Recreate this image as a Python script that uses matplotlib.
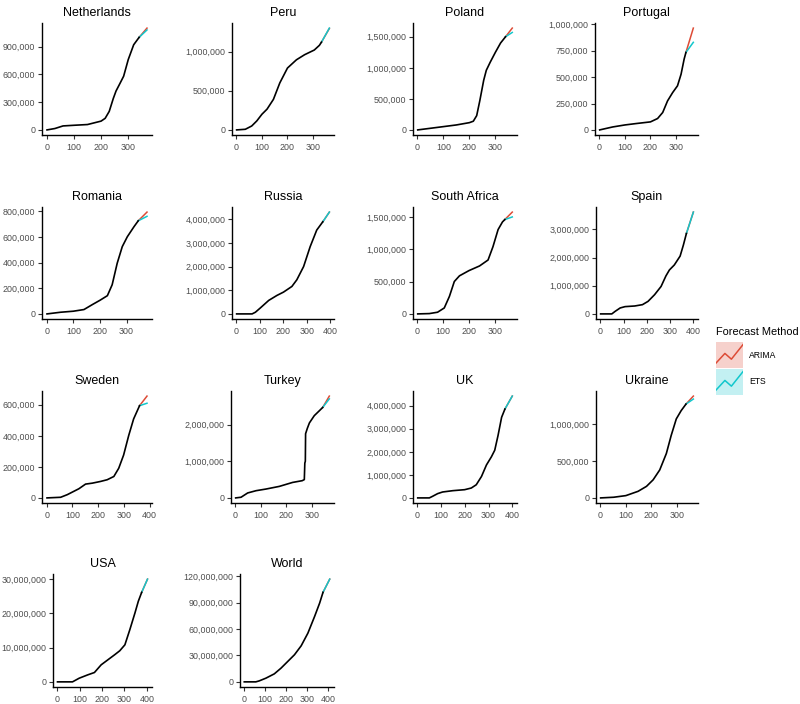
import matplotlib
matplotlib.use("Agg")
import matplotlib.pyplot as plt
from matplotlib.ticker import FuncFormatter, MultipleLocator, FixedLocator
from matplotlib.patches import Rectangle

plt.rcParams['font.family'] = ['Liberation Sans', 'DejaVu Sans']

nl_days = [1, 30, 60, 100, 150, 200, 215, 230, 245, 255, 270, 283, 300, 320, 340]
nl_vals = [0, 15e3, 43e3, 50e3, 58e3, 95e3, 125e3, 200e3, 340e3, 420e3, 505e3, 580e3, 760e3, 920e3, 1000e3]
pe_days = [1, 35, 60, 80, 100, 120, 145, 170, 200, 235, 267, 305, 325, 333]
pe_vals = [0, 8e3, 50e3, 115e3, 200e3, 265e3, 390e3, 600e3, 790e3, 895e3, 960e3, 1020e3, 1080e3, 1120e3]
pl_days = [1, 100, 150, 200, 215, 228, 240, 255, 265, 280, 300, 320, 339]
pl_vals = [0, 53e3, 80e3, 117e3, 140e3, 230e3, 470e3, 800e3, 960e3, 1090e3, 1250e3, 1400e3, 1500e3]
pt_days = [1, 52, 100, 143, 200, 228, 248, 267, 287, 306, 320, 332, 339]
pt_vals = [0, 28e3, 47e3, 60e3, 76e3, 108e3, 165e3, 275e3, 354e3, 418e3, 528e3, 671e3, 734e3]
ro_days = [1, 52, 100, 140, 171, 200, 228, 246, 265, 284, 303, 328, 344]
ro_vals = [0, 13e3, 21e3, 34e3, 72e3, 106e3, 142e3, 227e3, 395e3, 524e3, 601e3, 679e3, 725e3]
ru_days = [1, 67, 81, 102, 138, 173, 201, 237, 258, 287, 315, 343, 369]
ru_vals = [0, 0, 70e3, 250e3, 570e3, 780e3, 920e3, 1160e3, 1440e3, 2000e3, 2840e3, 3540e3, 3890e3]
za_days = [1, 46, 78, 104, 124, 143, 163, 200, 241, 274, 293, 313, 330, 339]
za_vals = [0, 5e3, 26e3, 92e3, 271e3, 501e3, 589e3, 670e3, 742e3, 834e3, 1039e3, 1305e3, 1423e3, 1459e3]
es_days = [1, 49, 64, 85, 106, 148, 181, 205, 233, 261, 282, 297, 318, 343, 357, 370]
es_vals = [0, 0, 94e3, 211e3, 258e3, 281e3, 328e3, 445e3, 680e3, 973e3, 1348e3, 1559e3, 1735e3, 2050e3, 2440e3, 2850e3]
se_days = [1, 54, 80, 125, 151, 177, 209, 235, 261, 280, 299, 319, 338, 361]
se_vals = [0, 4e3, 21e3, 59e3, 89e3, 95e3, 106e3, 117e3, 138e3, 191e3, 276e3, 403e3, 509e3, 594e3]
tr_days = [1, 22, 48, 81, 120, 172, 224, 262, 270, 272, 274, 275, 282, 290, 309, 329, 342]
tr_vals = [0, 18e3, 135e3, 197e3, 242e3, 314e3, 422e3, 470e3, 500e3, 950e3, 1000e3, 1750e3, 1900e3, 2045e3, 2242e3, 2377e3, 2466e3]
uk_days = [1, 50, 64, 85, 106, 149, 199, 227, 248, 270, 291, 312, 326, 340, 355, 369]
uk_vals = [0, 0, 71e3, 186e3, 257e3, 314e3, 357e3, 429e3, 571e3, 929e3, 1430e3, 1786e3, 2070e3, 2714e3, 3500e3, 3857e3]
ua_days = [1, 52, 100, 148, 181, 207, 233, 259, 278, 298, 317, 336]
ua_vals = [0, 9e3, 31e3, 89e3, 156e3, 244e3, 378e3, 600e3, 844e3, 1067e3, 1178e3, 1267e3]
us_days = [1, 68, 98, 136, 166, 196, 226, 256, 279, 302, 324, 347, 362, 377]
us_vals = [0, 0, 1.07e6, 2.04e6, 2.73e6, 4.97e6, 6.43e6, 7.89e6, 9.06e6, 10.8e6, 15.2e6, 20.1e6, 23.5e6, 26.1e6]
wo_days = [1, 56, 72, 104, 144, 176, 208, 240, 272, 304, 336, 360, 376]
wo_vals = [0, 0, 1.1e6, 4.2e6, 9.1e6, 15.6e6, 23.2e6, 30.8e6, 41e6, 55.4e6, 74.4e6, 89.6e6, 101.8e6]

countries = ["Netherlands", "Peru", "Poland", "Portugal", "Romania", "Russia",
             "South Africa", "Spain", "Sweden", "Turkey", "UK", "Ukraine", "USA", "World"]
obs_days = [nl_days, pe_days, pl_days, pt_days, ro_days, ru_days, za_days,
            es_days, se_days, tr_days, uk_days, ua_days, us_days, wo_days]
obs_vals = [nl_vals, pe_vals, pl_vals, pt_vals, ro_vals, ru_vals, za_vals,
            es_vals, se_vals, tr_vals, uk_vals, ua_vals, us_vals, wo_vals]

# forecast horizon end day and end values
fc_end = [369, 364, 365, 368, 377, 397, 368, 400, 390, 368, 400, 365, 403, 408]
arima_end = [1100e3, 1295e3, 1640e3, 965e3, 793e3, 4300e3, 1575e3, 3610e3, 656e3, 2776e3, 4420e3, 1375e3, 29.95e6, 116.8e6]
ets_end = [1080e3, 1300e3, 1570e3, 830e3, 760e3, 4300e3, 1500e3, 3610e3, 610e3, 2700e3, 4420e3, 1335e3, 29.95e6, 116.8e6]

y_ticks = [
    [0, 300e3, 600e3, 900e3],
    [0, 500e3, 1e6],
    [0, 500e3, 1e6, 1.5e6],
    [0, 250e3, 500e3, 750e3, 1e6],
    [0, 200e3, 400e3, 600e3, 800e3],
    [0, 1e6, 2e6, 3e6, 4e6],
    [0, 500e3, 1e6, 1.5e6],
    [0, 1e6, 2e6, 3e6],
    [0, 200e3, 400e3, 600e3],
    [0, 1e6, 2e6],
    [0, 1e6, 2e6, 3e6, 4e6],
    [0, 500e3, 1e6],
    [0, 10e6, 20e6, 30e6],
    [0, 30e6, 60e6, 90e6, 120e6],
]

arima_col = "#DD4B36"
ets_col = "#12C7CC"

W, H = 800, 704
fig = plt.figure(figsize=(8, 7.04), dpi=100)

col_right = [152, 334, 517, 698]
row_top = [23, 207, 391, 574]
row_bot = [135, 319, 503, 687]
lefts = [42, 232, 413, 595, 42, 232, 413, 596, 42, 231, 413, 596, 53, 240]

fmt = FuncFormatter(lambda v, p: f"{int(round(v)):,}")

for i, name in enumerate(countries):
    r, c = divmod(i, 4)
    l, rt = lefts[i], col_right[c]
    t, b = row_top[r], row_bot[r]
    ax = fig.add_axes([l / W, 1 - b / H, (rt - l) / W, (b - t) / H])
    d, v = obs_days[i], obs_vals[i]
    ax.plot([d[-1], fc_end[i]], [v[-1], arima_end[i]], color=arima_col, lw=1.1)
    ax.plot([d[-1], fc_end[i]], [v[-1], ets_end[i]], color=ets_col, lw=1.1)
    ax.plot(d, v, color="black", lw=1.2, solid_joinstyle="round")
    ax.margins(0.05)
    ax.xaxis.set_major_locator(MultipleLocator(100))
    ax.yaxis.set_major_locator(FixedLocator(y_ticks[i]))
    ax.yaxis.set_major_formatter(fmt)
    for s in ["top", "right"]:
        ax.spines[s].set_visible(False)
    for s in ["left", "bottom"]:
        ax.spines[s].set_linewidth(1.0)
        ax.spines[s].set_color("black")
    ax.tick_params(length=2.8, width=0.8, color="#333333", labelsize=6.4,
                   labelcolor="#4D4D4D")
    ax.tick_params(axis="x", pad=3)
    ax.tick_params(axis="y", pad=2)
    ax.set_title(name, fontsize=9, color="black", pad=5)

# legend
fig.text(716 / W, 1 - 332 / H, "Forecast Method", fontsize=7.9, va="center", ha="left")
for k, (lab, colr) in enumerate([("ARIMA", arima_col), ("ETS", ets_col)]):
    top = 342 + 27 * k
    kax = fig.add_axes([716 / W, 1 - (top + 26) / H, 27 / W, 26 / H])
    kax.add_patch(Rectangle((0, 0), 1, 1, color=colr, alpha=0.25, lw=0))
    kax.plot([0.0, 0.33, 0.57, 1.0], [0.19, 0.56, 0.34, 0.9], color=colr, lw=1.1)
    kax.set_xlim(0, 1)
    kax.set_ylim(0, 1)
    kax.axis("off")
    fig.text(749 / W, 1 - (top + 13) / H, lab, fontsize=6.2, va="center", ha="left")

fig.savefig("out.png", dpi=100)
